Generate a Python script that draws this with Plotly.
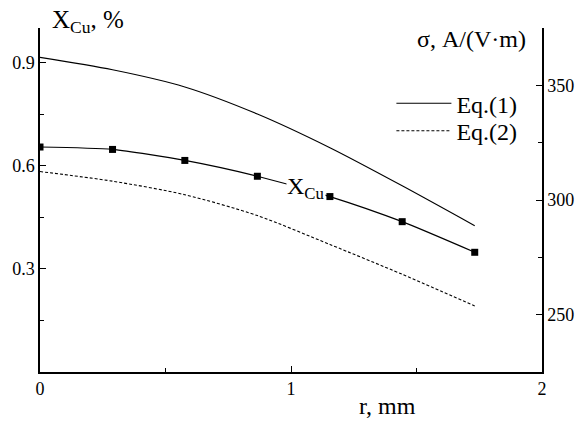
import plotly.graph_objects as go

# radial positions, mm
r_mm = [0.0, 0.289, 0.577, 0.866, 1.155, 1.443, 1.732]
# copper fraction X_Cu, % (left axis)
x_cu = [0.654, 0.647, 0.615, 0.569, 0.510, 0.437, 0.348]
# conductivity sigma, A/(V*m) (right axis)
sigma_eq1 = [362.2, 356.8, 349.3, 337.5, 322.8, 306.2, 288.8]
sigma_eq2 = [312.4, 308.2, 302.3, 293.2, 280.6, 267.6, 253.8]

x_ticks = [0, 1, 2]
left_ticks = [0.3, 0.6, 0.9]
right_ticks = [250, 300, 350]

FONT = "Liberation Serif"

fig = go.Figure()
fig.add_trace(go.Scatter(
    x=r_mm, y=x_cu, mode="lines+markers", name="X_Cu", showlegend=False,
    line=dict(color="black", width=1.2, shape="spline", smoothing=0.6),
    marker=dict(symbol="square", size=7, color="black"), yaxis="y"))
fig.add_trace(go.Scatter(
    x=r_mm, y=sigma_eq1, mode="lines", name="Eq.(1)", legend="legend",
    line=dict(color="black", width=1.1, shape="spline", smoothing=0.8), yaxis="y2"))
fig.add_trace(go.Scatter(
    x=r_mm, y=sigma_eq2, mode="lines", name="Eq.(2)", legend="legend2",
    line=dict(color="black", width=1.1, dash="3px,2px", shape="spline", smoothing=0.8),
    yaxis="y2"))

axis_common = dict(showline=True, linecolor="black", linewidth=1.5, ticks="inside",
                   ticklen=6, tickwidth=1.2, tickcolor="black", showgrid=False,
                   zeroline=False, automargin=False,
                   tickfont=dict(family=FONT, size=18, color="black"))

leg_common = dict(xanchor="left", yanchor="middle", itemwidth=55,
                  bgcolor="rgba(0,0,0,0)", font=dict(family=FONT, size=24, color="black"))

fig.update_layout(
    template="none",
    width=577, height=421,
    margin=dict(l=40, r=35, t=28, b=49),
    paper_bgcolor="white", plot_bgcolor="white",
    font=dict(family=FONT, color="black"),
    xaxis=dict(range=[0, 2], tickvals=x_ticks, ticktext=[str(v) for v in x_ticks],
               minor=dict(dtick=0.5, tick0=0, ticks="inside", ticklen=4, tickcolor="black"),
               **axis_common),
    yaxis=dict(range=[0, 1.0], tickvals=left_ticks, ticktext=[f"{v:.1f}" for v in left_ticks],
               minor=dict(dtick=0.15, tick0=0, ticks="inside", ticklen=4, tickcolor="black"),
               **axis_common),
    yaxis2=dict(range=[225, 375], overlaying="y", side="right", anchor="x",
                tickvals=right_ticks, ticktext=[str(v) for v in right_ticks],
                minor=dict(dtick=25, tick0=0, ticks="inside", ticklen=4, tickcolor="black"),
                **axis_common),
    legend=dict(x=0.70, y=0.78, **leg_common),
    legend2=dict(x=0.70, y=0.70, **leg_common),
    annotations=[
        dict(text="X<sub>Cu</sub>, %", xref="paper", yref="paper", x=0.02, y=1.0,
             xanchor="left", yanchor="bottom", yshift=-11, showarrow=False,
             font=dict(family=FONT, size=25, color="black")),
        dict(text="σ, A/(V·m)", xref="paper", yref="paper", x=0.973, y=1.0,
             xanchor="right", yanchor="top", yshift=4, showarrow=False,
             font=dict(family=FONT, size=24, color="black")),
        dict(text="r, mm", xref="paper", yref="paper", x=0.692, y=0.0,
             xanchor="center", yanchor="top", yshift=-19, showarrow=False,
             font=dict(family=FONT, size=24, color="black")),
        dict(text="X<sub>Cu</sub>", xref="x", yref="y", x=0.982, y=0.535,
             xanchor="left", yanchor="middle", showarrow=False, bgcolor="white",
             borderpad=0, font=dict(family=FONT, size=24, color="black")),
    ],
)

fig.write_html("out.html")
